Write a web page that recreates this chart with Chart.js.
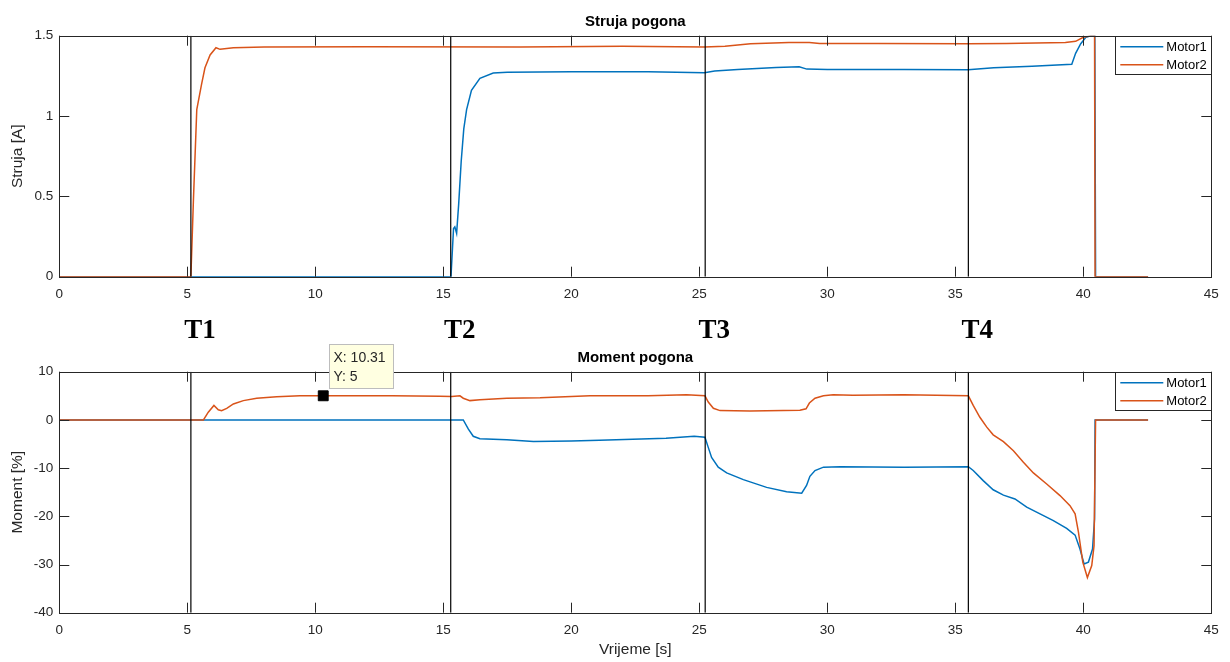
<!DOCTYPE html>
<html>
<head>
<meta charset="utf-8">
<script src="https://cdn.jsdelivr.net/npm/chart.js@4.4.1/dist/chart.umd.min.js"></script>
<style>
  body { margin: 0; background: #fff; }
  #wrap { position: relative; width: 1230px; height: 662px; }
  canvas { position: absolute; left: 0; }
</style>
</head>
<body>
<div id="wrap">
  <canvas id="current" width="1230" height="310" style="top:0"></canvas>
  <canvas id="torque" width="1230" height="352" style="top:310px"></canvas>
</div>
<script>
// ---- data ----
const seriesNames = ["Motor1", "Motor2"];

const currentTime1 = [0, 15.3, 15.4, 15.45, 15.52, 15.6, 15.7, 15.8, 15.91, 16.1, 16.43, 16.95, 17.5, 20, 23, 25.2, 25.6, 26.5, 28, 28.9, 29.2, 30, 33, 35.5, 36.5, 38, 39.55, 39.7, 39.9, 40.1, 40.3, 40.45, 40.48, 42.53];
const currentMotor1 = [0, 0, 0.3, 0.31, 0.27, 0.45, 0.72, 0.92, 1.04, 1.16, 1.235, 1.268, 1.272, 1.275, 1.276, 1.27, 1.28, 1.29, 1.302, 1.307, 1.292, 1.29, 1.29, 1.288, 1.3, 1.31, 1.322, 1.39, 1.45, 1.49, 1.5, 1.5, 0, 0];

const currentTime2 = [0, 5.14, 5.24, 5.37, 5.56, 5.69, 5.89, 6.12, 6.28, 6.8, 8, 12, 18, 22, 25.2, 26, 27, 28.5, 29.3, 29.7, 32, 35.5, 37, 39.3, 39.7, 40.0, 40.3, 40.44, 40.46, 42.53];
const currentMotor2 = [0, 0, 0.48, 1.04, 1.2, 1.3, 1.38, 1.425, 1.415, 1.425, 1.43, 1.432, 1.43, 1.435, 1.43, 1.435, 1.45, 1.458, 1.458, 1.452, 1.452, 1.45, 1.452, 1.458, 1.465, 1.49, 1.5, 1.5, 0, 0];

const torqueTime1 = [0, 15.78, 15.98, 16.17, 16.43, 17.48, 18.52, 20.0, 21.1, 22.4, 23.7, 24.8, 25.22, 25.35, 25.48, 25.74, 26.07, 26.72, 27.63, 28.41, 29.0, 29.19, 29.32, 29.52, 29.85, 30.5, 33, 35.51, 35.7, 36.09, 36.48, 36.88, 37.33, 37.79, 38.31, 38.83, 39.35, 39.68, 39.87, 40.03, 40.2, 40.36, 40.44, 40.46, 42.53];
const torqueMotor1 = [0, 0, -1.9, -3.4, -3.9, -4.1, -4.5, -4.4, -4.2, -4.0, -3.8, -3.4, -3.6, -5.7, -7.8, -9.8, -11.0, -12.4, -14.0, -14.9, -15.2, -13.6, -11.7, -10.5, -9.8, -9.7, -9.8, -9.7, -10.5, -12.6, -14.5, -15.6, -16.4, -18.1, -19.5, -20.9, -22.5, -23.9, -26.8, -29.9, -29.5, -26.8, -20.5, 0, 0];

const torqueTime2 = [0, 5.63, 5.82, 6.04, 6.21, 6.34, 6.54, 6.8, 7.19, 7.71, 8.49, 9.4, 10.31, 13, 14.87, 15.33, 15.65, 15.78, 16.04, 16.43, 17.48, 18.78, 20.73, 23, 24.5, 25.22, 25.35, 25.55, 25.81, 26.98, 28.93, 29.17, 29.3, 29.52, 29.85, 30.23, 31, 33, 35.51, 35.7, 35.96, 36.23, 36.48, 36.88, 37.27, 37.66, 38.05, 38.57, 39.09, 39.48, 39.68, 39.81, 39.98, 40.16, 40.33, 40.42, 40.48, 42.53];
const torqueMotor2 = [0, 0, 1.6, 3.0, 2.1, 1.9, 2.4, 3.3, 4.0, 4.5, 4.8, 5.0, 5.0, 5.0, 4.9, 4.85, 5.0, 4.5, 4.0, 4.2, 4.5, 4.6, 5.0, 5.0, 5.2, 5.0, 3.7, 2.4, 1.93, 1.86, 2.0, 2.3, 3.5, 4.5, 5.0, 5.2, 5.1, 5.2, 5.0, 3.0, 0.55, -1.5, -3.1, -4.5, -6.4, -8.8, -11.0, -13.3, -15.7, -17.8, -19.5, -23.3, -29.5, -32.7, -30.2, -26.1, 0, 0];

const eventTimes = [5.14, 15.29, 25.23, 35.51];
const eventLabels = ["T1", "T2", "T3", "T4"];
const tipPoint = [10.31, 5];   // data tip: x, y

// ---- styling ----
const SANS = '"Liberation Sans", Arial, Helvetica, sans-serif';
const AXIS = "#262626";
const BLUE = "#0072BD";
const ORANGE = "#D95319";
const TICK = 10;

const zip = (xs, ys) => xs.map((x, i) => ({ x, y: ys[i] }));

function seriesDataset(label, xs, ys, color, order) {
  return { label, data: zip(xs, ys), borderColor: color, backgroundColor: color,
           borderWidth: 1.5, pointRadius: 0, tension: 0, order };
}

function eventDatasets(yMin, yMax) {
  return eventTimes.map(t => ({
    label: "", data: [{ x: t, y: yMin }, { x: t, y: yMax }],
    borderColor: "#000", borderWidth: 1.2, pointRadius: 0, order: 0
  }));
}

// MATLAB-like axes box, inward ticks, labels, legend, annotations
const matlabFrame = {
  id: "matlabFrame",
  afterDraw(chart, args, o) {
    const { ctx, chartArea: a, scales: { x, y } } = chart;
    ctx.save();
    ctx.strokeStyle = AXIS;
    ctx.lineWidth = 1;
    ctx.beginPath();
    x.ticks.forEach(t => {
      const px = Math.round(x.getPixelForValue(t.value)) + 0.5;
      ctx.moveTo(px, a.bottom); ctx.lineTo(px, a.bottom - TICK);
      ctx.moveTo(px, a.top); ctx.lineTo(px, a.top + TICK);
    });
    y.ticks.forEach(t => {
      const py = Math.round(y.getPixelForValue(t.value)) + 0.5;
      ctx.moveTo(a.left, py); ctx.lineTo(a.left + TICK, py);
      ctx.moveTo(a.right, py); ctx.lineTo(a.right - TICK, py);
    });
    ctx.stroke();
    ctx.strokeRect(Math.round(a.left) + 0.5, Math.round(a.top) + 0.5, Math.round(a.width), Math.round(a.height));

    // title
    ctx.fillStyle = "#000";
    ctx.textAlign = "center";
    ctx.textBaseline = "middle";
    ctx.font = "bold 15px " + SANS;
    ctx.fillText(o.title, (a.left + a.right) / 2, a.top - 13.7);

    // axis labels
    ctx.fillStyle = AXIS;
    ctx.font = "15.5px " + SANS;
    ctx.save();
    ctx.translate(18, (a.top + a.bottom) / 2);
    ctx.rotate(-Math.PI / 2);
    ctx.fillText(o.yLabel, 0, 0);
    ctx.restore();
    if (o.xLabel) ctx.fillText(o.xLabel, (a.left + a.right) / 2, a.bottom + 37.3);

    // legend
    const bw = 96, bh = 38.3, bx = a.right - bw, by = a.top;
    ctx.fillStyle = "#fff";
    ctx.fillRect(bx, by, bw, bh);
    ctx.strokeStyle = AXIS;
    ctx.strokeRect(Math.round(bx) + 0.5, Math.round(by) + 0.5, bw, Math.round(bh));
    ctx.font = "13px " + SANS;
    ctx.textAlign = "left";
    seriesNames.forEach((name, i) => {
      const ds = chart.data.datasets.find(d => d.label === name);
      const ly = by + 11 + i * 18;
      ctx.strokeStyle = ds.borderColor;
      ctx.lineWidth = 1.5;
      ctx.beginPath(); ctx.moveTo(bx + 5, ly); ctx.lineTo(bx + 48, ly); ctx.stroke();
      ctx.fillStyle = "#000";
      ctx.fillText(name, bx + 51, ly + 0.5);
    });

    // event labels T1..T4 above the lower axes
    if (o.eventText) {
      ctx.fillStyle = "#000";
      ctx.textAlign = "center";
      ctx.font = "bold 27px \"Liberation Serif\", \"Times New Roman\", serif";
      eventTimes.forEach((t, i) => {
        ctx.fillText(eventLabels[i], x.getPixelForValue(t) + 9, a.top - 40.7);
      });
    }

    // data tip box
    if (o.dataTip) {
      const mx = x.getPixelForValue(tipPoint[0]);
      const my = y.getPixelForValue(tipPoint[1]);
      const tx = Math.round(mx + 6) + 0.5, ty = Math.round(my - 52) + 0.5;
      ctx.fillStyle = "#FFFFE1";
      ctx.fillRect(tx, ty, 64, 44);
      ctx.strokeStyle = "#BDBDBD";
      ctx.lineWidth = 1;
      ctx.strokeRect(tx, ty, 64, 44);
      ctx.fillStyle = AXIS;
      ctx.textAlign = "left";
      ctx.font = "14px " + SANS;
      ctx.fillText("X: " + tipPoint[0], tx + 4, ty + 14);
      ctx.fillText("Y: " + tipPoint[1], tx + 4, ty + 32.5);
    }
    ctx.restore();
  }
};

function scalesFor(yMin, yMax, yStep, xHeight) {
  const tickFont = { size: 13.5, family: SANS };
  return {
    x: {
      type: "linear", min: 0, max: 45,
      ticks: { stepSize: 5, padding: 9, color: AXIS, font: tickFont, maxRotation: 0, autoSkip: false },
      grid: { display: false, drawTicks: false }, border: { display: false },
      afterFit: s => { s.height = xHeight; }
    },
    y: {
      min: yMin, max: yMax,
      ticks: { stepSize: yStep, padding: 6, color: AXIS, font: tickFont, callback: v => String(v) },
      grid: { display: false, drawTicks: false }, border: { display: false },
      afterFit: s => { s.width = 59.3; }
    }
  };
}

function baseOptions(padTop, scales, frame) {
  return {
    responsive: false, animation: false, events: [],
    layout: { padding: { top: padTop, right: 18.7, left: 0, bottom: 0 } },
    scales,
    plugins: { legend: { display: false }, tooltip: { enabled: false }, matlabFrame: frame }
  };
}

new Chart(document.getElementById("current"), {
  type: "line",
  data: {
    datasets: [
      ...eventDatasets(0, 1.5),
      seriesDataset("Motor2", currentTime2, currentMotor2, ORANGE, 1),
      seriesDataset("Motor1", currentTime1, currentMotor1, BLUE, 2)
    ]
  },
  options: baseOptions(35.7, scalesFor(0, 1.5, 0.5, 33.3),
    { title: "Struja pogona", yLabel: "Struja [A]" }),
  plugins: [matlabFrame]
});

new Chart(document.getElementById("torque"), {
  type: "line",
  data: {
    datasets: [
      { label: "tip", data: [{ x: tipPoint[0], y: tipPoint[1] }], showLine: false,
        pointStyle: "rect", pointRadius: 7, backgroundColor: "#000", borderColor: "#000", order: -1 },
      ...eventDatasets(-40, 10),
      seriesDataset("Motor2", torqueTime2, torqueMotor2, ORANGE, 1),
      seriesDataset("Motor1", torqueTime1, torqueMotor1, BLUE, 2)
    ]
  },
  options: baseOptions(61.7, scalesFor(-40, 10, 10, 49.3),
    { title: "Moment pogona", yLabel: "Moment [%]", xLabel: "Vrijeme [s]", eventText: true, dataTip: true }),
  plugins: [matlabFrame]
});
</script>
</body>
</html>
